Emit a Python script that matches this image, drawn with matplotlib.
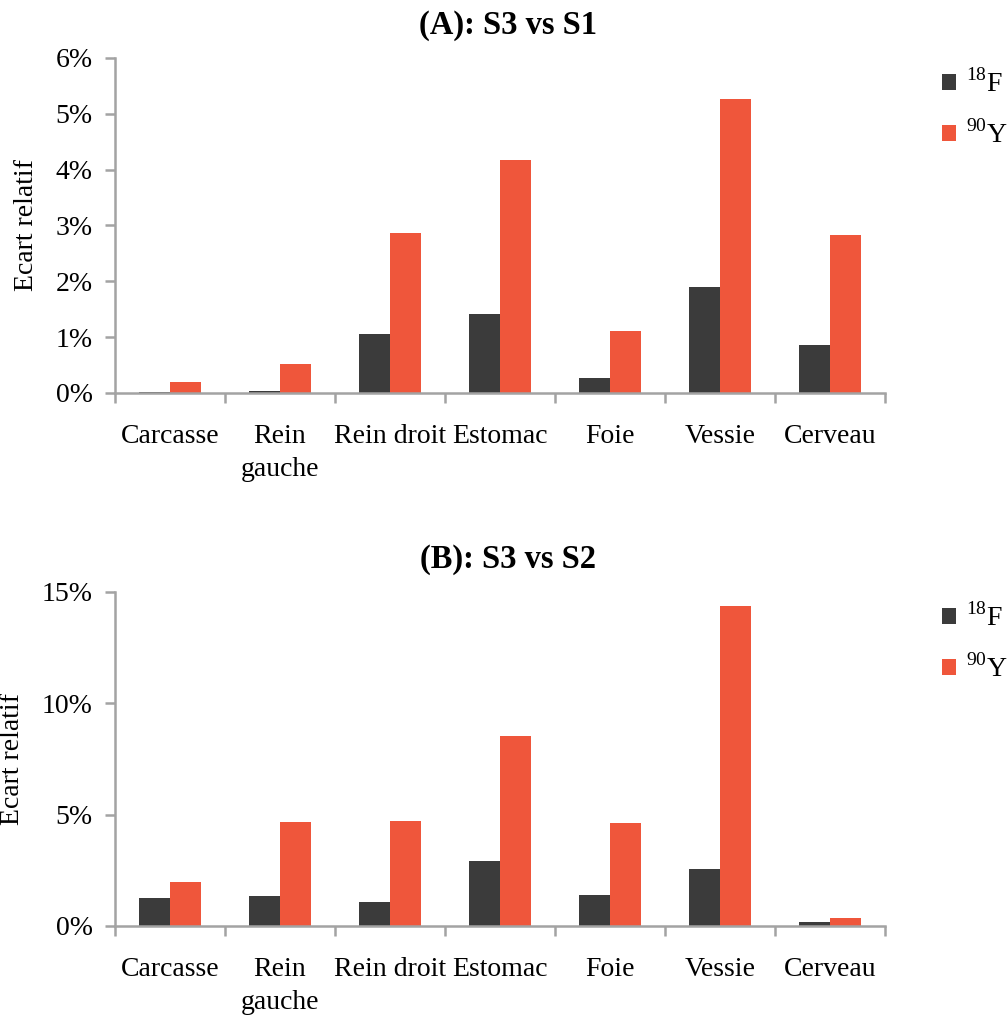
import matplotlib
matplotlib.use("Agg")
import matplotlib.pyplot as plt
import numpy as np
from matplotlib.ticker import FixedLocator, FuncFormatter

plt.rcParams['font.family'] = ['Liberation Serif', 'DejaVu Serif']
plt.rcParams['mathtext.fontset'] = 'custom'
plt.rcParams['mathtext.rm'] = 'Liberation Serif'

categories = ["Carcasse", "Rein\ngauche", "Rein droit", "Estomac", "Foie", "Vessie", "Cerveau"]

# Relative deviation (%) — S3 vs S1
f18_a = [0.02, 0.04, 1.06, 1.42, 0.27, 1.90, 0.86]
y90_a = [0.20, 0.52, 2.87, 4.18, 1.11, 5.27, 2.83]

# Relative deviation (%) — S3 vs S2
f18_b = [1.25, 1.34, 1.07, 2.90, 1.38, 2.54, 0.19]
y90_b = [1.96, 4.69, 4.73, 8.53, 4.64, 14.38, 0.37]

titles = ["(A): S3 vs S1", "(B): S3 vs S2"]
y_limits = [6, 15]
y_steps = [1, 5]

dark = "#3b3b3b"
orange = "#ef563b"
axis_grey = "#a3a3a3"

fig = plt.figure(figsize=(10.07, 10.17), dpi=100)
ax_a = fig.add_axes([0.1142, 0.6136, 0.7647, 0.3294])
ax_b = fig.add_axes([0.1142, 0.0895, 0.7647, 0.3284])

x = np.arange(len(categories))
w = 0.285

for ax, f18, y90, title, ymax, step in zip(
        [ax_a, ax_b], [f18_a, f18_b], [y90_a, y90_b], titles, y_limits, y_steps):
    ax.bar(x - w / 2, f18, width=w, color=dark, label=r"$^{\mathrm{18}}$F")
    ax.bar(x + w / 2, y90, width=w, color=orange, label=r"$^{\mathrm{90}}$Y")
    ax.set_xlim(-0.5, len(categories) - 0.5)
    ax.set_ylim(0, ymax)
    ax.set_yticks(np.arange(0, ymax + 0.01, step))
    ax.yaxis.set_major_formatter(FuncFormatter(lambda v, p: f"{v:.0f}%"))

    # category boundaries carry the tick marks, names sit between them
    ax.xaxis.set_major_locator(FixedLocator(np.arange(-0.5, len(categories), 1.0)))
    ax.xaxis.set_major_formatter(FuncFormatter(lambda v, p: ""))
    ax.xaxis.set_minor_locator(FixedLocator(x))
    ax.set_xticklabels(categories, minor=True, fontsize=20, linespacing=1.42)
    ax.tick_params(axis='x', which='minor', length=0, pad=22.5)
    ax.tick_params(axis='x', which='major', direction='out', length=7,
                   width=1.8, color=axis_grey)
    ax.tick_params(axis='y', direction='out', length=7, width=1.8,
                   color=axis_grey, labelsize=20, pad=9)

    for s in ['top', 'right']:
        ax.spines[s].set_visible(False)
    for s in ['left', 'bottom']:
        ax.spines[s].set_color(axis_grey)
        ax.spines[s].set_linewidth(1.8)

    ax.set_ylabel("Ecart relatif", fontsize=20, labelpad=12)
    ax.set_title(title, fontsize=23.5, fontweight='bold', pad=17.5, x=0.51)

    ax.legend(loc='upper left', bbox_to_anchor=(1.06, 1.0), frameon=False,
              fontsize=20, handlelength=0.5, handleheight=0.5,
              handletextpad=0.35, labelspacing=0.8, borderaxespad=0)

fig.savefig("out.png", dpi=100)
